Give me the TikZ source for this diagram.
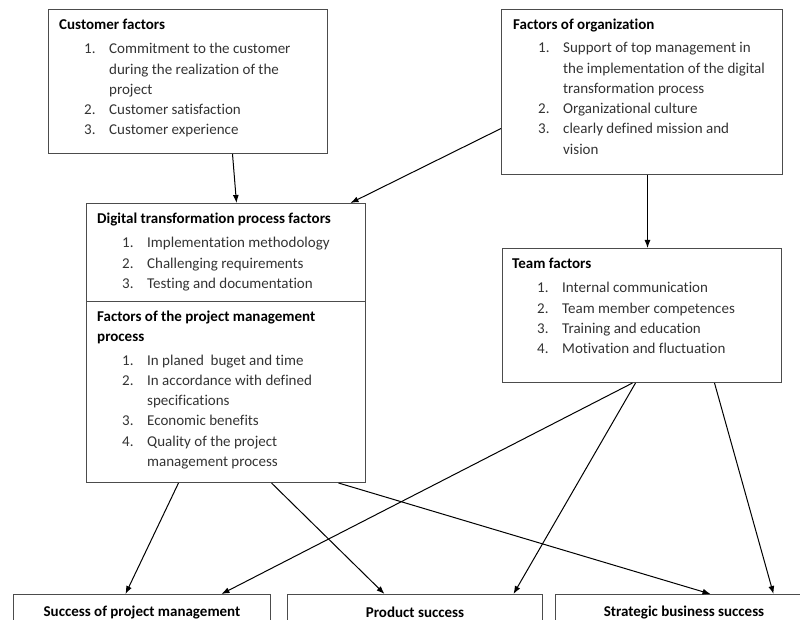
\documentclass[tikz,border=0pt]{standalone}
\usepackage{fontspec}
\setmainfont{Carlito}[Ligatures=NoCommon]
\usetikzlibrary{arrows.meta}

\tikzset{
  box/.style={draw=black!70, line width=1pt, anchor=north west, inner sep=0pt},
  txt/.style={anchor=north west, align=left, inner sep=0pt, text=black!80,
    font=\fontsize{15}{20.3}\selectfont},
  res/.style={draw=black!70, line width=1pt, anchor=north west, inner sep=0pt,
    minimum height=36pt, font=\fontsize{15}{20.3}\selectfont\bfseries},
  arr/.style={-{Latex[length=8pt,width=6pt]}, line width=1pt},
}
\newcommand{\hd}[1]{\strut{\bfseries\color{black}#1}}
\newcommand{\itm}[2]{\hspace*{25pt}\makebox[25pt][l]{#1}#2}
\newcommand{\cnt}[1]{\hspace*{50pt}#1}

\begin{document}
\begin{tikzpicture}[x=1pt,y=-1pt]
    \useasboundingbox (0,0) rectangle (800,620);
    \clip (0,0) rectangle (800,620);

    % Define the boxes
    \node[box, minimum width=279pt, minimum height=144pt] (cust) at (48,9) {};
    \node[box, minimum width=281pt, minimum height=165pt] (org) at (501,9) {};
    \node[box, minimum width=279pt, minimum height=98pt] (dtp) at (86,203) {};
    \node[box, minimum width=279pt, minimum height=181pt] (pmp) at (86,301) {};
    \node[box, minimum width=279pt, minimum height=134pt] (team) at (502,248) {};

    \node[res, minimum width=257pt] (pms) at (13,594) {Success of project management};
    \node[res, minimum width=255pt] (prod) at (287,594) {Product success};
    \node[res, minimum width=257pt] (strat) at (555,594) {Strategic business success};

    % Texts of the boxes
    \node[txt] (custtxt) at ([xshift=11pt,yshift=-6pt]cust.north west) {%
        \hd{Customer factors}\\[4pt]
        \itm{1.}{Commitment to the customer}\\
        \cnt{during the realization of the}\\
        \cnt{project}\\
        \itm{2.}{Customer satisfaction}\\
        \itm{3.}{Customer experience}};
    \node[txt] (orgtxt) at ([xshift=12pt,yshift=-6pt]org.north west) {%
        \hd{Factors of organization}\\[3pt]
        \itm{1.}{Support of top management in}\\
        \cnt{the implementation of the digital}\\
        \cnt{transformation process}\\
        \itm{2.}{Organizational culture}\\
        \itm{3.}{clearly defined mission and}\\
        \cnt{vision}};
    \node[txt] (dtptxt) at ([xshift=11pt,yshift=-6pt]dtp.north west) {%
        \hd{Digital transformation process factors}\\[4pt]
        \itm{1.}{Implementation methodology}\\
        \itm{2.}{Challenging requirements}\\
        \itm{3.}{Testing and documentation}};
    \node[txt] (pmptxt) at ([xshift=11pt,yshift=-6pt]pmp.north west) {%
        \hd{Factors of the project management}\\
        \hd{process}\\[3pt]
        \itm{1.}{In planed\ \ buget and time}\\
        \itm{2.}{In accordance with defined}\\
        \cnt{specifications}\\
        \itm{3.}{Economic benefits}\\
        \itm{4.}{Quality of the project}\\
        \cnt{management process}};
    \node[txt] (teamtxt) at ([xshift=10pt,yshift=-6pt]team.north west) {%
        \hd{Team factors}\\[4pt]
        \itm{1.}{Internal communication}\\
        \itm{2.}{Team member competences}\\
        \itm{3.}{Training and education}\\
        \itm{4.}{Motivation and fluctuation}};

    % Draw the edges
    \draw[arr] ([xshift=44.5pt]cust.south) -- ([xshift=10.5pt]dtp.north);
    \draw[arr] ([yshift=-36.5pt]org.west) -- ([xshift=124.5pt]dtp.north);
    \draw[arr] ([xshift=5.5pt]org.south) -- ([xshift=5.5pt]team.north);

    \draw[arr] ([xshift=-47.5pt]pmp.south) -- ([xshift=-16.5pt]pms.north);
    \draw[arr] ([xshift=45.5pt]pmp.south) -- ([xshift=-30.5pt]prod.north);
    \draw[arr] ([xshift=112.5pt]pmp.south) -- ([xshift=26.5pt]strat.north);

    \draw[arr] ([xshift=-9.5pt]team.south) -- ([xshift=79.5pt]pms.north);
    \draw[arr] ([xshift=-6.5pt]team.south) -- ([xshift=98.5pt]prod.north);
    \draw[arr] ([xshift=72.5pt]team.south) -- ([xshift=89.5pt]strat.north);
\end{tikzpicture}
\end{document}
